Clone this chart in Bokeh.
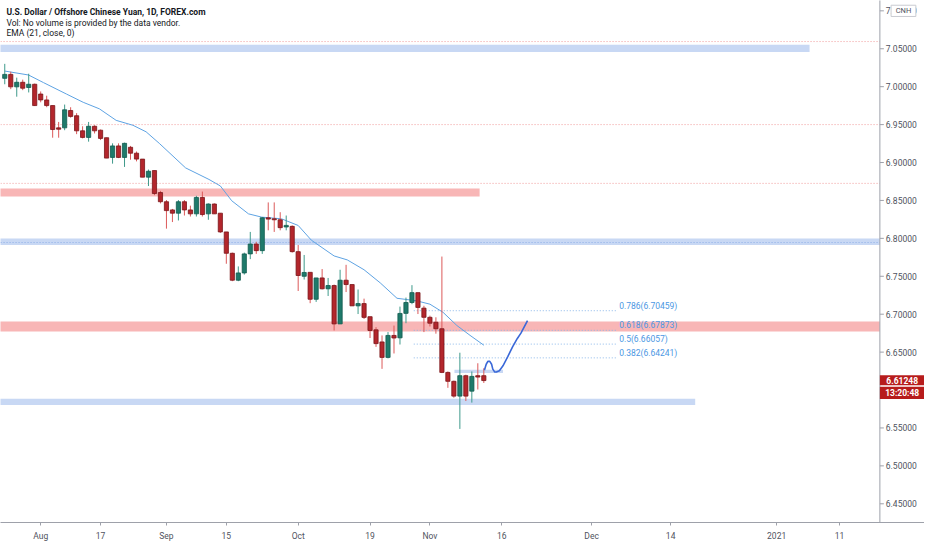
from bokeh.plotting import figure
from bokeh.models import Range1d, Label, FixedTicker, CustomJSTickFormatter, ColumnDataSource
from bokeh.core.properties import value
from bokeh.embed import file_html
from bokeh.resources import INLINE

# ---------------- data ----------------
opens = [7.0110, 7.0162, 6.9998, 7.0058, 6.9989, 7.0032, 6.9903, 6.9825, 6.9751, 6.9457,
         6.9457, 6.9686, 6.9617, 6.9418, 6.9331, 6.9478, 6.9426, 6.9327, 6.9067, 6.9219,
         6.9067, 6.9201, 6.9123, 6.9045, 6.8807, 6.8894, 6.8604, 6.8483, 6.8375, 6.8332,
         6.8483, 6.8375, 6.8323, 6.8539, 6.8323, 6.8453, 6.8332, 6.8085, 6.7803, 6.7448,
         6.7544, 6.7795, 6.7925, 6.7838, 6.8271, 6.8258, 6.8245, 6.8150, 6.8158, 6.7825,
         6.7500, 6.7552, 6.7197, 6.7478, 6.7335, 6.7378, 6.6872, 6.7448, 6.7391, 6.7110,
         6.7140, 6.6967, 6.6794, 6.6634, 6.6430, 6.6720, 6.6688, 6.7011, 6.7154, 6.7284,
         6.7080, 6.6959, 6.6894, 6.6808, 6.6232, 6.6115, 6.5920, 6.6189, 6.5985, 6.6189,
         6.6189]
highs = [7.0301, 7.0197, 7.0119, 7.0093, 7.0171, 7.0041, 6.9937, 6.9881, 6.9751, 6.9535,
         6.9764, 6.9729, 6.9651, 6.9478, 6.9535, 6.9491, 6.9435, 6.9327, 6.9253, 6.9253,
         6.9262, 6.9219, 6.9145, 6.9045, 6.8907, 6.8894, 6.8626, 6.8505, 6.8388, 6.8505,
         6.8505, 6.8431, 6.8561, 6.8617, 6.8461, 6.8461, 6.8332, 6.8085, 6.7812, 6.7630,
         6.7812, 6.8085, 6.7955, 6.8280, 6.8474, 6.8474, 6.8345, 6.8301, 6.8171, 6.7912,
         6.7781, 6.7552, 6.7478, 6.7595, 6.7478, 6.7391, 6.7586, 6.7651, 6.7391, 6.7326,
         6.7205, 6.6967, 6.6829, 6.6720, 6.6764, 6.6850, 6.7100, 6.7219, 6.7383, 6.7284,
         6.7111, 6.6981, 6.6959, 6.7760, 6.6245, 6.6124, 6.6492, 6.6202, 6.6245, 6.6353,
         6.6288]
lows = [7.0032, 6.9967, 6.9868, 6.9954, 6.9924, 6.9745, 6.9794, 6.9729, 6.9327, 6.9327,
        6.9426, 6.9591, 6.9374, 6.9318, 6.9275, 6.9383, 6.9296, 6.9058, 6.8985, 6.9058,
        6.8942, 6.9037, 6.9015, 6.8807, 6.8690, 6.8569, 6.8461, 6.8128, 6.8215, 6.8236,
        6.8301, 6.8288, 6.8288, 6.8288, 6.8245, 6.8323, 6.8072, 6.7665, 6.7435, 6.7435,
        6.7522, 6.7726, 6.7795, 6.7795, 6.8106, 6.8085, 6.8106, 6.8106, 6.7812, 6.7306,
        6.7457, 6.7145, 6.7162, 6.7326, 6.7240, 6.6785, 6.6872, 6.7292, 6.7110, 6.7002,
        6.6937, 6.6686, 6.6569, 6.6279, 6.6417, 6.6482, 6.6600, 6.6881, 6.7132, 6.7002,
        6.6764, 6.6838, 6.6743, 6.6223, 6.6029, 6.5899, 6.5487, 6.5855, 6.5834, 6.6007,
        6.6093]
closes = [7.0162, 6.9998, 7.0058, 6.9980, 7.0032, 6.9751, 6.9825, 6.9751, 6.9435, 6.9439,
          6.9695, 6.9608, 6.9418, 6.9331, 6.9478, 6.9418, 6.9318, 6.9058, 6.9219, 6.9067,
          6.9253, 6.9123, 6.9045, 6.8807, 6.8885, 6.8591, 6.8483, 6.8366, 6.8332, 6.8483,
          6.8375, 6.8323, 6.8539, 6.8314, 6.8453, 6.8323, 6.8085, 6.7803, 6.7448, 6.7544,
          6.7795, 6.7925, 6.7838, 6.8271, 6.8254, 6.8245, 6.8141, 6.8171, 6.7825, 6.7510,
          6.7550, 6.7197, 6.7478, 6.7335, 6.7378, 6.6872, 6.7448, 6.7391, 6.7110, 6.7140,
          6.6958, 6.6785, 6.6612, 6.6430, 6.6720, 6.6686, 6.7010, 6.7154, 6.7284, 6.7089,
          6.6959, 6.6881, 6.6808, 6.6232, 6.6115, 6.5920, 6.6189, 6.5920, 6.6180, 6.6171,
          6.61248]

ema_idx = [0, 3.97, 6.46, 10.3, 13.1, 15.8, 18.6, 21.4, 23.6, 25.8, 30.2, 34.1, 36.0, 37.9,
           40.7, 42.9, 46.2, 49.0, 51.2, 55.0, 57.2, 60.0, 62.7, 65.5, 68.8, 71.0, 73.2,
           75.5, 77.7, 80.0]
ema_val = [7.0206, 7.0154, 7.0054, 6.9903, 6.9794, 6.9708, 6.9556, 6.9491, 6.9405, 6.9253,
           6.8929, 6.8777, 6.8691, 6.8496, 6.8323, 6.8280, 6.8258, 6.8170, 6.7976, 6.7768,
           6.7716, 6.7586, 6.7413, 6.7210, 6.7176, 6.7132, 6.7024, 6.6851, 6.6721, 6.6591]

tick_pos = [6, 16, 27, 37, 49, 61, 71, 83, 98, 111.2, 128.9, 139.4]
tick_lab = ["Aug", "17", "Sep", "15", "Oct", "19", "Nov", "16", "Dec", "14", "2021", "11"]
price_ticks = [6.45, 6.50, 6.55, 6.65, 6.70, 6.75, 6.80, 6.85, 6.90, 6.95, 7.00, 7.05, 7.10]

# zones: low, high, right end (bar index); None = to the price axis
zone_lo = [7.0457, 6.8552, 6.7912, 6.6773, 6.5803]
zone_hi = [7.0552, 6.8656, 6.7997, 6.6903, 6.5886]
zone_end = [134.4, 79.3, None, None, 115.3]
zone_kind = ["blue", "red", "blue", "red", "blue"]

red_lines = [7.0595, 6.95, 6.8725]
blue_lines = [6.7945]

fib_ratio = ["0.786", "0.618", "0.5", "0.382"]
fib_level = [6.70459, 6.67873, 6.66057, 6.64241]
fib_start, fib_end = 68.3, 102.3

box_lo, box_hi, box_start, box_end = 6.6223, 6.6266, 75.1, 83.2

proj_idx = [80.1, 80.4, 80.7, 81.0, 81.3, 81.5, 81.8, 82.1, 82.6, 83.2, 84.0, 84.8, 85.6, 86.2, 87.3]
proj_val = [6.6260, 6.6340, 6.6380, 6.6378, 6.6340, 6.6275, 6.6240, 6.6238, 6.6255, 6.6320, 6.6440,
            6.6570, 6.6680, 6.6750, 6.6916]

last_price = 6.61248
countdown = "13:20:48"
symbol_badge = "CNH"

# ---------------- geometry helpers (reference pixels -> data) ----------------
def ix(px):
    return (px - 4.3) / 6.04

def py(ypx):
    return 7.05 - (ypx - 49) / 770.0

X0, X1 = ix(0), ix(932)
AXX = ix(887)           # price-axis line position
Y0, Y1 = py(530), py(0)

p = figure(output_backend="svg", toolbar_location=None,
           x_range=Range1d(X0, X1), y_range=Range1d(Y0, Y1),
           y_axis_location=None,
           min_border_left=0, min_border_top=0, min_border_right=0, min_border_bottom=20)
p.frame_width = 924
p.frame_height = 522
p.outline_line_color = None
p.xgrid.visible = False
p.ygrid.visible = False
p.background_fill_color = "white"
p.border_fill_color = "white"

AX = "#9ea1aa"
TXT = "#50535e"
xa = p.xaxis[0]
xa.axis_line_color = AX
xa.major_tick_line_color = AX
xa.minor_tick_line_color = None
xa.major_tick_in = 0
xa.major_tick_out = 3
xa.major_label_text_color = TXT
xa.major_label_text_font = "Roboto"
xa.major_label_text_font_size = "8.5px"
xa.major_label_standoff = 5
xa.ticker = FixedTicker(ticks=tick_pos)
xa.formatter = CustomJSTickFormatter(args=dict(pos=tick_pos, labs=tick_lab), code="""
    for (let i = 0; i < pos.length; i++) { if (Math.abs(pos[i] - tick) < 1e-6) return labs[i]; }
    return "";
""")

# ---------------- zones & lines ----------------
BLUE_Z = "#c8d8f4"
RED_Z = "#f8b6b6"
for lo, hi, end, kind in zip(zone_lo, zone_hi, zone_end, zone_kind):
    right = AXX if end is None else end
    p.quad(left=X0 - 5, right=right, bottom=lo, top=hi,
           fill_color=BLUE_Z if kind == "blue" else RED_Z, line_color=None)

for lv in red_lines:
    p.segment(x0=X0 - 5, x1=AXX, y0=lv, y1=lv, line_color="#f09a9a",
              line_width=1, line_dash="1 2")
for lv in blue_lines:
    p.segment(x0=X0 - 5, x1=AXX, y0=lv, y1=lv, line_color="#8eaee6",
              line_width=1, line_dash="1 2")

p.quad(left=box_start, right=box_end, bottom=box_lo, top=box_hi,
       fill_color="#c8d8f4", line_color=None)

for lv in fib_level:
    p.segment(x0=fib_start, x1=fib_end, y0=lv, y1=lv, line_color="#8cb8ea",
              line_width=1, line_dash="1 2")

fib_src = ColumnDataSource(dict(
    x=[ix(624)] * len(fib_level), y=fib_level,
    t=[f"{r}({v:.5f})" for r, v in zip(fib_ratio, fib_level)]))
p.text(x="x", y="y", text="t", source=fib_src, text_color="#4b97e3",
       text_font=value("Roboto"), text_font_size="8.5px", text_baseline="bottom",
       text_align="left")

# ---------------- EMA ----------------
p.line(ema_idx, ema_val, line_color="#5ea3e3", line_width=1)

# ---------------- candles ----------------
idx = list(range(len(opens)))
up = [c >= o for o, c in zip(opens, closes)]
src = ColumnDataSource(dict(
    x=idx, o=opens, h=highs, l=lows, c=closes,
    top=[max(o, c) for o, c in zip(opens, closes)],
    bot=[min(o, c) for o, c in zip(opens, closes)],
    wc=["#3f9a8b" if u else "#dc5a5a" for u in up],
    bc=["#1f7a6b" if u else "#b3262c" for u in up],
    ec=["#125a4e" if u else "#7a1519" for u in up]))
p.segment(x0="x", x1="x", y0="l", y1="h", line_color="wc", line_width=1, source=src)
p.vbar(x="x", width=0.7, top="top", bottom="bot", fill_color="bc", line_color="ec",
       line_width=0.8, source=src)

# ---------------- projected path ----------------
p.line(proj_idx, proj_val, line_color="#3a68d8", line_width=1.6)

# ---------------- legend texts ----------------
hdr = [("U.S. Dollar / Offshore Chinese Yuan, 1D, FOREX.com", 11.7, "bold"),
       ("Vol: No volume is provided by the data vendor.", 22.8, "normal"),
       ("EMA (21, close, 0)", 33.0, "normal")]
for t, yy, st in hdr:
    p.add_layout(Label(x=ix(6), y=py(yy), text=t, text_font="Roboto", text_font_size="8.5px",
                       text_font_style=st, text_color="#131722", text_baseline="middle",
                       text_align="left"))

# ---------------- price scale (drawn in the right strip) ----------------
p.quad(left=AXX, right=X1 + 5, bottom=Y0 - 1, top=Y1 + 1, fill_color="white", line_color=None)
p.segment(x0=AXX, x1=AXX, y0=Y0 - 1, y1=Y1 + 1, line_color=AX, line_width=1)
p.segment(x0=[AXX] * len(price_ticks), x1=[ix(891)] * len(price_ticks),
          y0=price_ticks, y1=price_ticks, line_color=AX, line_width=1)
p.text(x=[ix(893)] * len(price_ticks), y=price_ticks,
       text=[f"{v:.5f}" for v in price_ticks], text_color=TXT,
       text_font=value("Roboto"), text_font_size="8.5px", text_baseline="middle",
       text_align="left")

# current price + countdown badges
p.quad(left=AXX, right=X1 + 5, bottom=py(390.7), top=py(380.5), fill_color="#b71c1c", line_color=None)
p.quad(left=AXX, right=X1 + 5, bottom=py(404.5), top=py(392.2), fill_color="#b71c1c", line_color=None)
p.text(x=[ix(909.5), ix(909.5)], y=[last_price, py(398.3)], text=[f"{last_price:.5f}", countdown],
       text_color="white", text_font=value("Roboto"), text_font_size="8.5px",
       text_font_style="bold", text_baseline="middle", text_align="center")

# symbol badge at the top of the scale
p.quad(left=ix(898.3), right=ix(923.3), bottom=py(16.2), top=py(4.8), fill_color="white",
       line_color="#c9cbd1", line_width=1)
p.text(x=[ix(910.8)], y=[py(10.5)], text=[symbol_badge], text_color=TXT,
       text_font=value("Roboto"), text_font_size="7.5px", text_baseline="middle",
       text_align="center")

open("out.html", "w").write(file_html(p, INLINE))
